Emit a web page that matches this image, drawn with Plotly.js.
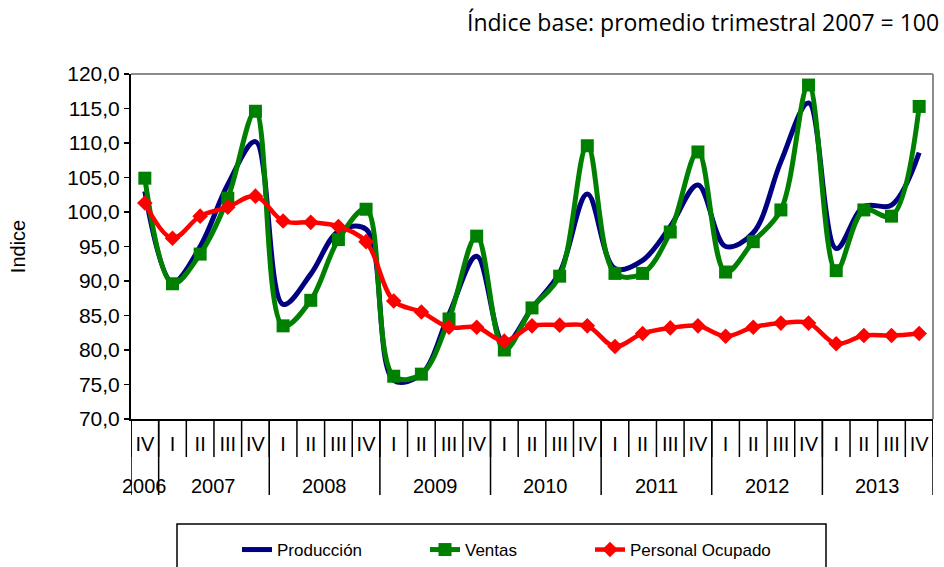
<!DOCTYPE html>
<html>
<head>
<meta charset="utf-8">
<script src="https://cdn.plot.ly/plotly-3.0.1.min.js"></script>
<style>html,body{margin:0;padding:0;background:#fff;}#chart{width:944px;height:567px;}</style>
</head>
<body>
<div id="chart"></div>
<script>
// Year groups and quarters
const years = ['2006','2007','2008','2009','2010','2011','2012','2013'];
const quartersByYear = [
  ['IV'],
  ['I','II','III','IV'],
  ['I','II','III','IV'],
  ['I','II','III','IV'],
  ['I','II','III','IV'],
  ['I','II','III','IV'],
  ['I','II','III','IV'],
  ['I','II','III','IV']
];

// Series values (index, promedio trimestral 2007 = 100)
const produccion = [103.0, 89.8, 95.0, 104.0, 110.2, 86.6, 91.0, 97.2, 97.5, 75.6, 76.5, 85.2, 93.6,
  80.8, 86.1, 91.2, 102.6, 91.8, 93.0, 97.9, 103.9, 95.0, 97.0, 107.3, 115.8, 94.7, 100.8, 101.0, 108.6];
const ventas = [104.9, 89.6, 93.9, 102.0, 114.6, 83.5, 87.2, 96.0, 100.4, 76.2, 76.5, 84.5, 96.5,
  80.0, 86.1, 90.7, 109.6, 91.1, 91.1, 97.1, 108.7, 91.3, 95.7, 100.3, 118.4, 91.5, 100.3, 99.4, 115.3];
const personal = [101.3, 96.2, 99.4, 100.7, 102.3, 98.7, 98.5, 97.9, 95.7, 87.1, 85.5, 83.3, 83.3,
  81.3, 83.5, 83.6, 83.5, 80.5, 82.4, 83.2, 83.5, 82.0, 83.3, 83.9, 83.9, 80.9, 82.1, 82.1, 82.4];

const seriesNames = ['Producción', 'Ventas', 'Personal Ocupado'];
const seriesColors = ['#000080', '#008000', '#FF0000'];

// Build category arrays
const periods = [], quarterLabels = [], yearBounds = [], yearCenters = [];
let idx = 0;
years.forEach((y, gi) => {
  const start = idx;
  quartersByYear[gi].forEach(q => { periods.push(q + ' ' + y); quarterLabels.push(q); idx++; });
  yearBounds.push(start - 0.5);
  yearCenters.push((start + idx - 1) / 2);
});
yearBounds.push(idx - 0.5);

const traces = [
  {x: periods, y: produccion, name: seriesNames[0], type: 'scatter', mode: 'lines', legend: 'legend',
   line: {color: seriesColors[0], width: 5, shape: 'spline', smoothing: 1}},
  {x: periods, y: ventas, name: seriesNames[1], type: 'scatter', mode: 'lines+markers', legend: 'legend',
   line: {color: seriesColors[1], width: 5, shape: 'spline', smoothing: 1},
   marker: {symbol: 'square', size: 13, color: seriesColors[1]}},
  {x: periods, y: personal, name: seriesNames[2], type: 'scatter', mode: 'lines+markers', legend: 'legend2',
   line: {color: seriesColors[2], width: 4.5, shape: 'spline', smoothing: 1},
   marker: {symbol: 'diamond', size: 12, color: seriesColors[2]}}
];

const plotH = 345;
const qLineBottom = -(457 - 419) / plotH;
const yLineBottom = -(495 - 419) / plotH;
const yearLabelY = -(486 - 419) / plotH;

const shapes = [];
for (let k = 0; k <= periods.length; k++) {
  shapes.push({type: 'line', xref: 'x', yref: 'paper', x0: k - 0.5, x1: k - 0.5, y0: 0, y1: qLineBottom,
    line: {color: '#000', width: 1.5}});
}
yearBounds.forEach(b => {
  shapes.push({type: 'line', xref: 'x', yref: 'paper', x0: b, x1: b, y0: 0, y1: yLineBottom,
    line: {color: '#000', width: 1.5}});
});
// plot area border (top and right, gray)
shapes.push({type: 'line', xref: 'paper', yref: 'paper', x0: 0, x1: 1, y0: 1, y1: 1, line: {color: '#8c8c8c', width: 2}});
shapes.push({type: 'line', xref: 'paper', yref: 'paper', x0: 1, x1: 1, y0: 0, y1: 1, line: {color: '#8c8c8c', width: 2}});
// legend box
shapes.push({type: 'rect', xref: 'paper', yref: 'paper', x0: (177 - 131) / 802, x1: (826 - 131) / 802,
  y0: -(524 - 419) / plotH, y1: -(600 - 419) / plotH, line: {color: '#000', width: 1.5}, fillcolor: 'rgba(0,0,0,0)'});

const annotations = years.map((y, i) => ({
  text: y, xref: 'x', yref: 'paper', x: yearCenters[i], y: yearLabelY, showarrow: false,
  xanchor: 'center', yanchor: 'middle', font: {family: 'Liberation Sans, Arial, sans-serif', size: 20, color: '#000'}
}));
annotations.push({
  text: 'Índice base: promedio trimestral 2007 = 100', xref: 'paper', yref: 'paper',
  x: (941 - 131) / 802, y: 1 + (74 - 22) / plotH, xanchor: 'right', yanchor: 'middle', showarrow: false,
  font: {family: 'Open Sans, sans-serif', size: 23, color: '#000'}
});

const legendCommon = {orientation: 'h', xanchor: 'left', y: -(532 - 419) / plotH, yanchor: 'top',
  font: {size: 17, color: '#000'}, bgcolor: 'rgba(0,0,0,0)', borderwidth: 0, traceorder: 'normal'};

const layout = {
  width: 944, height: 567,
  margin: {l: 131, r: 11, t: 74, b: 148, autoexpand: false},
  paper_bgcolor: '#fff', plot_bgcolor: '#fff',
  separators: ',.',
  font: {family: 'Liberation Sans, Arial, sans-serif', size: 20, color: '#000'},
  showlegend: true,
  legend: Object.assign({}, legendCommon, {x: (237 - 131) / 802, entrywidth: 143}),
  legend2: Object.assign({}, legendCommon, {x: (590 - 131) / 802}),
  xaxis: {type: 'category', range: [-0.5, periods.length - 0.5], tickvals: periods, ticktext: quarterLabels,
    ticks: '', showgrid: false, zeroline: false, showline: true, linecolor: '#000', linewidth: 2,
    ticklabelstandoff: 6, tickangle: 0, tickfont: {size: 20}},
  yaxis: {title: {text: 'Indice', font: {size: 20}, standoff: 36}, range: [70, 120], dtick: 5, tick0: 70,
    tickformat: '.1f', ticks: 'outside', ticklen: 5, tickcolor: '#000', tickwidth: 1.5,
    showgrid: false, zeroline: false, showline: true, linecolor: '#000', linewidth: 2, tickfont: {size: 21}},
  shapes: shapes,
  annotations: annotations
};

Plotly.newPlot('chart', traces, layout, {displayModeBar: false, staticPlot: true});
</script>
</body>
</html>
